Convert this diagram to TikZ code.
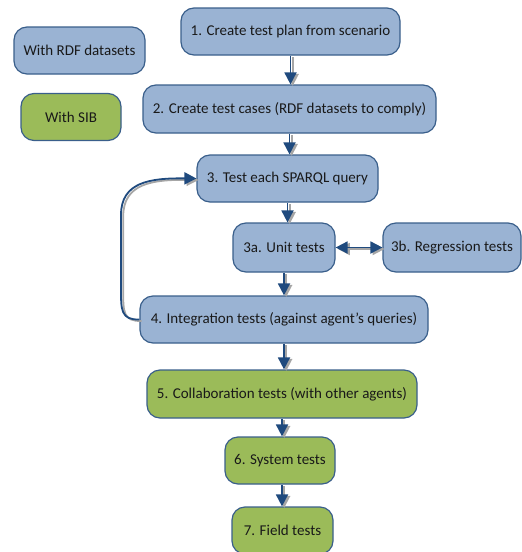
\documentclass[tikz,border=0pt]{standalone}
\usepackage{fontspec}
\setmainfont{Carlito}
\usetikzlibrary{arrows.meta,calc}
\definecolor{boxblue}{HTML}{9AB3D3}
\definecolor{boxgreen}{HTML}{9BBB59}
\definecolor{boxline}{HTML}{3A5F8B}
\definecolor{arrblue}{HTML}{1F4A7E}
\definecolor{shadowgray}{HTML}{A6A6A6}
\tikzset{
  box/.style={draw=boxline, line width=1.2pt, rounded corners=13pt, inner sep=0pt,
    font=\fontsize{15}{18}\selectfont, text=black!90},
  bluebox/.style={box, fill=boxblue},
  greenbox/.style={box, fill=boxgreen},
  tip/.style={Triangle[length=12pt,width=12pt]},
  conn/.style={draw=arrblue, line width=1.8pt, -{Triangle[length=12pt,width=12pt]},
    preaction={draw=shadowgray, line width=1.8pt, -{Triangle[length=12pt,width=12pt]},
      transform canvas={shift={(2.2pt,-1.5pt)}}}},
  dconn/.style={draw=arrblue, line width=1.8pt, {Triangle[length=12pt,width=12pt]}-{Triangle[length=12pt,width=12pt]},
    preaction={draw=shadowgray, line width=1.8pt, {Triangle[length=12pt,width=12pt]}-{Triangle[length=12pt,width=12pt]},
      transform canvas={shift={(2.2pt,-1.5pt)}}}},
}
\begin{document}
\begin{tikzpicture}[x=1pt,y=-1pt]
\useasboundingbox (0,0) rectangle (522,552);
\node[bluebox, minimum width=131pt, minimum height=47pt] (rdf) at (79.5,50.5) {With RDF datasets};
\node[greenbox, minimum width=100pt, minimum height=47pt] (sib) at (71,117) {With SIB};
\node[bluebox, minimum width=219pt, minimum height=47pt] (b1) at (290.5,31.5) {1. Create test plan from scenario};
\node[bluebox, minimum width=293pt, minimum height=48pt] (b2) at (289.5,109) {2. Create test cases (RDF datasets to comply)};
\node[bluebox, minimum width=181pt, minimum height=47pt] (b3) at (287.5,178.5) {3. Test each SPARQL query};
\node[bluebox, minimum width=102pt, minimum height=49pt] (b3a) at (284,247.5) {3a. Unit tests};
\node[bluebox, minimum width=138pt, minimum height=49pt] (b3b) at (452,247.5) {3b. Regression tests};
\node[bluebox, minimum width=288pt, minimum height=47pt] (b4) at (284,319.5) {4. Integration tests (against agent’s queries)};
\node[greenbox, minimum width=270pt, minimum height=48pt] (b5) at (282,394) {5. Collaboration tests (with other agents)};
\node[greenbox, minimum width=110pt, minimum height=47pt] (b6) at (280,460.5) {6. System tests};
\node[greenbox, minimum width=101pt, minimum height=47pt] (b7) at (282.5,530.5) {7. Field tests};
\draw[conn] (b1.south) -- (b1.south |- b2.north);
\draw[conn] (b2.south) -- (b2.south |- b3.north);
\draw[conn] (b3.south) -- (b3.south |- b3a.north);
\draw[conn] (b3a.south) -- (b3a.south |- b4.north);
\draw[conn] (b4.south) -- (b4.south |- b5.north);
\draw[conn] (b5.south) -- (b5.south |- b6.north);
\draw[conn] ([xshift=2pt]b6.south) -- ([xshift=2pt]b6.south |- b7.north);
\draw[dconn] (b3a.east) -- (b3b.west);
\draw[conn] (b4.west) .. controls (121,320) and (121,310) .. (121,290) -- (121,215)
  .. controls (121,182) and (150,178) .. (b3.west);
\end{tikzpicture}
\end{document}
